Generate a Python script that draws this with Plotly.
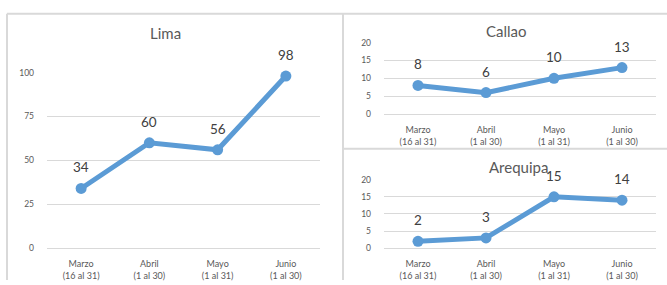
import plotly.graph_objects as go

W, H = 667, 285

categories = ["Marzo<br>(16 al 31)", "Abril<br>(1 al 30)", "Mayo<br>(1 al 31)", "Junio<br>(1 al 30)"]
lima = [34, 60, 56, 98]
callao = [8, 6, 10, 13]
arequipa = [2, 3, 15, 14]

lima_ticks = [0, 25, 50, 75, 100]
small_ticks = [0, 5, 10, 15, 20]

LINE = "#5b9bd5"
GRID = "#d9d9d9"
TXT = "#595959"
LBL = "#404040"
FONT = "Lato"

def px_x(x):
    return x / W

def px_y(y):
    return (H - y) / H

fig = go.Figure()

panels = [
    ("Lima", lima, "x", "y", (47, 320), (252, 70), [0, 100], lima_ticks, (165, 29)),
    ("Callao", callao, "x2", "y2", (384, 656), (113, 39), [0, 20], small_ticks, (507, 27)),
    ("Arequipa", arequipa, "x3", "y3", (384, 656), (252, 181), [0, 20], small_ticks, (518, 168)),
]

layout_axes = {}
annotations = []
for i, (name, vals, xr, yr, (x0, x1), (y0, y1), rng, ticks, (tx, ty)) in enumerate(panels):
    fig.add_trace(go.Scatter(
        x=categories, y=vals, xaxis=xr, yaxis=yr, mode="lines+markers",
        line=dict(color=LINE, width=5), marker=dict(color=LINE, size=11),
        cliponaxis=False, showlegend=False, hoverinfo="skip",
    ))
    suffix = "" if i == 0 else str(i + 1)
    layout_axes["xaxis" + suffix] = dict(
        domain=[px_x(x0), px_x(x1)], anchor=yr, type="category",
        range=[-0.5, 3.5], showgrid=False, zeroline=False, showline=False,
        ticks="", tickfont=dict(family=FONT, size=9, color=TXT), ticklabelstandoff=9,
    )
    layout_axes["yaxis" + suffix] = dict(
        domain=[px_y(y0), px_y(y1)], anchor=xr, range=rng, tickvals=ticks,
        showgrid=True, gridcolor=GRID, gridwidth=1, zeroline=True, zerolinecolor=GRID,
        zerolinewidth=1, showline=False, ticks="",
        tickfont=dict(family=FONT, size=8.5, color=TXT), ticklabelstandoff=12,
    )
    for c, v in zip(categories, vals):
        annotations.append(dict(
            x=c, y=v, xref=xr, yref=yr, text=str(v), showarrow=False,
            yshift=21, font=dict(family=FONT, size=13.5, color=LBL),
        ))
    annotations.append(dict(
        x=px_x(tx), y=px_y(ty), xref="paper", yref="paper", text=name,
        showarrow=False, xanchor="center", yanchor="middle",
        font=dict(family=FONT, size=15, color=TXT),
    ))

shapes = [
    dict(type="line", xref="paper", yref="paper", x0=px_x(7), x1=1.0, y0=px_y(9), y1=px_y(9), line=dict(color=GRID, width=2)),
    dict(type="line", xref="paper", yref="paper", x0=px_x(7), x1=px_x(7), y0=px_y(9), y1=0, line=dict(color=GRID, width=2)),
    dict(type="line", xref="paper", yref="paper", x0=px_x(343), x1=px_x(343), y0=px_y(9), y1=0, line=dict(color=GRID, width=2)),
    dict(type="line", xref="paper", yref="paper", x0=px_x(343), x1=1.0, y0=px_y(149), y1=px_y(149), line=dict(color=GRID, width=2)),
]

fig.update_layout(
    width=W, height=H, margin=dict(l=0, r=0, t=0, b=0),
    paper_bgcolor="white", plot_bgcolor="white",
    annotations=annotations, shapes=shapes,
    font=dict(family=FONT), **layout_axes,
)

fig.write_html(
    "out.html",
    config={"displayModeBar": False},
    post_script="document.body.style.margin='0';document.body.style.overflow='hidden';",
)
